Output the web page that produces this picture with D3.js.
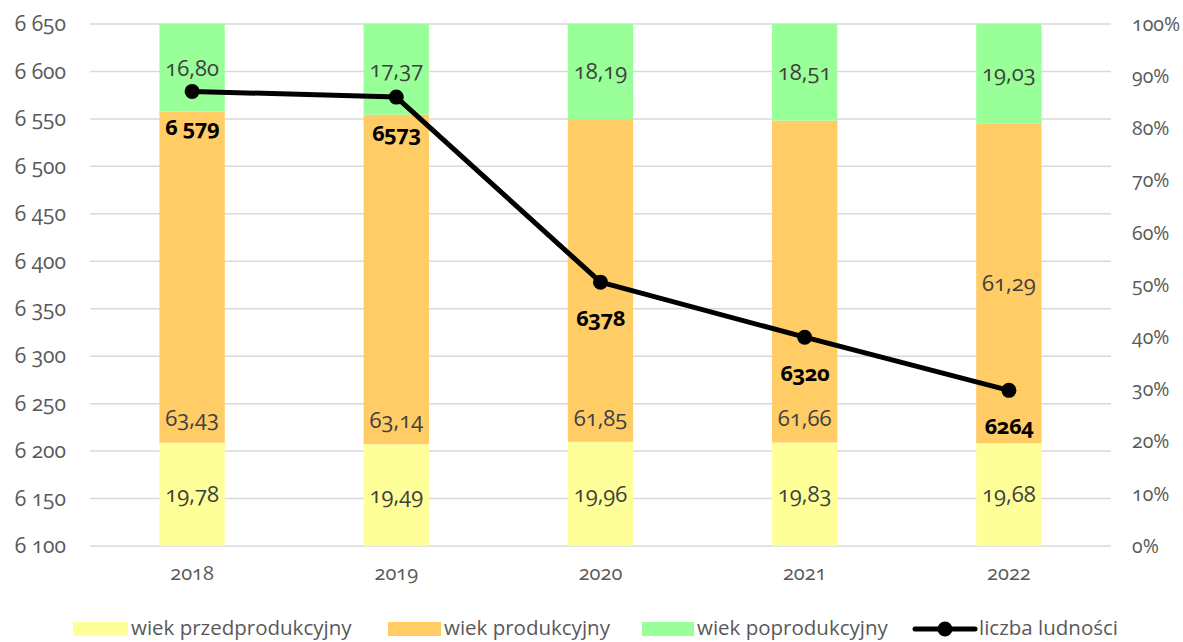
<!DOCTYPE html>
<html>
<head>
<meta charset="utf-8">
<script src="https://cdn.jsdelivr.net/npm/d3@7"></script>
<style>
  html, body { margin: 0; padding: 0; background: #fff; }
  svg { display: block; }
  svg text { font-family: "Open Sans", "Noto Sans", sans-serif; font-variant-numeric: oldstyle-nums; }
</style>
</head>
<body>
<svg id="chart" width="1183" height="642"></svg>
<script>
// Struktura ludności wg ekonomicznych grup wieku (%) i liczba ludności
const years = ["2018", "2019", "2020", "2021", "2022"];
const preWorking = [19.78, 19.49, 19.96, 19.83, 19.68];
const working = [63.43, 63.14, 61.85, 61.66, 61.29];
const postWorking = [16.80, 17.37, 18.19, 18.51, 19.03];
const population = [6579, 6573, 6378, 6320, 6264];
const populationLabels = ["6 579", "6573", "6378", "6320", "6264"];
const leftTicks = [6100, 6150, 6200, 6250, 6300, 6350, 6400, 6450, 6500, 6550, 6600, 6650];
const rightTicks = [0, 10, 20, 30, 40, 50, 60, 70, 80, 90, 100];
const seriesNames = ["wiek przedprodukcyjny", "wiek produkcyjny", "wiek poprodukcyjny", "liczba ludności"];
const seriesColors = ["#ffff99", "#ffcc66", "#99ff99"];

const svg = d3.select("#chart");
const plot = { left: 90, right: 1111, top: 24, bottom: 546 };

const x = d3.scaleBand().domain(years).range([plot.left, plot.right]).paddingInner(0.68).paddingOuter(0.34);
const yLeft = d3.scaleLinear().domain([6100, 6650]).range([plot.bottom, plot.top]);
const yRight = d3.scaleLinear().domain([0, 100]).range([plot.bottom, plot.top]);

const fmt = v => v.toFixed(2).replace(".", ",");
const fmtThousands = v => String(v).replace(/\B(?=(\d{3})+(?!\d))/g, " ");

// Linie siatki
svg.append("g")
  .selectAll("line")
  .data(leftTicks)
  .join("line")
  .attr("x1", plot.left).attr("x2", plot.right)
  .attr("y1", d => yLeft(d)).attr("y2", d => yLeft(d))
  .attr("stroke", "#d9d9d9").attr("stroke-width", 1.5);

function styleAxis(g, size) {
  g.attr("font-family", null).attr("font-size", size);
  g.select(".domain").remove();
  g.selectAll("text").attr("fill", "#595959");
}

// Oś lewa
svg.append("g")
  .attr("transform", `translate(${plot.left},0)`)
  .call(d3.axisLeft(yLeft).tickValues(leftTicks).tickSize(0).tickPadding(24).tickFormat(fmtThousands))
  .call(g => styleAxis(g, 21));

// Oś prawa
svg.append("g")
  .attr("transform", `translate(${plot.right},0)`)
  .call(d3.axisRight(yRight).tickValues(rightTicks).tickSize(0).tickPadding(21).tickFormat(d => d + "%"))
  .call(g => styleAxis(g, 19.5));

// Oś X
svg.append("g")
  .attr("transform", `translate(0,${plot.bottom})`)
  .call(d3.axisBottom(x).tickSize(0).tickPadding(20))
  .call(g => styleAxis(g, 20));

// Słupki skumulowane
const rows = years.map((y, i) => ({ year: y, pre: preWorking[i], work: working[i], post: postWorking[i] }));
const stack = d3.stack().keys(["pre", "work", "post"])(rows);

const layers = svg.append("g").selectAll("g")
  .data(stack)
  .join("g")
  .attr("fill", (d, i) => seriesColors[i]);

layers.selectAll("rect")
  .data(d => d)
  .join("rect")
  .attr("x", d => x(d.data.year))
  .attr("width", x.bandwidth())
  .attr("y", d => yRight(Math.min(d[1], 100)))
  .attr("height", d => yRight(d[0]) - yRight(Math.min(d[1], 100)));

// Etykiety wartości słupków
const baseLabelYears = new Set(["2018", "2019", "2020", "2021"]);
const segLabels = svg.append("g")
  .attr("fill", "#404040").attr("font-size", 22).attr("text-anchor", "middle");
stack.forEach((layer, li) => {
  layer.forEach(d => {
    const top = yRight(Math.min(d[1], 100));
    const bottom = yRight(d[0]);
    let cy = (top + bottom) / 2;
    if (li === 1 && baseLabelYears.has(d.data.year)) cy = bottom - 24;
    segLabels.append("text")
      .attr("x", x(d.data.year) + x.bandwidth() / 2)
      .attr("y", cy)
      .attr("dy", "0.35em")
      .text(fmt(d[1] - d[0]));
  });
});

// Linia liczby ludności
const cx = d => x(d) + x.bandwidth() / 2;
const pts = years.map((y, i) => ({ year: y, v: population[i], label: populationLabels[i] }));
svg.append("path")
  .datum(pts)
  .attr("fill", "none").attr("stroke", "#000").attr("stroke-width", 5)
  .attr("stroke-linejoin", "round")
  .attr("d", d3.line().x(d => cx(d.year)).y(d => yLeft(d.v)));

svg.append("g").selectAll("circle")
  .data(pts)
  .join("circle")
  .attr("cx", d => cx(d.year)).attr("cy", d => yLeft(d.v)).attr("r", 7.5)
  .attr("fill", "#000");

svg.append("g").selectAll("text")
  .data(pts)
  .join("text")
  .attr("x", d => cx(d.year)).attr("y", d => yLeft(d.v) + 36)
  .attr("dy", "0.35em")
  .attr("text-anchor", "middle")
  .attr("font-size", 22).attr("font-weight", 700).attr("fill", "#000")
  .attr("letter-spacing", "-0.5")
  .text(d => d.label);

// Legenda
const legend = svg.append("g").attr("font-size", 20.5).attr("fill", "#595959");
const legendY = 628;
const legendItems = [
  { x: 73, w: 55, color: seriesColors[0], name: seriesNames[0] },
  { x: 388, w: 53, color: seriesColors[1], name: seriesNames[1] },
  { x: 642, w: 52, color: seriesColors[2], name: seriesNames[2] }
];
legendItems.forEach(it => {
  legend.append("rect").attr("x", it.x).attr("y", legendY - 6).attr("width", it.w).attr("height", 14).attr("fill", it.color);
  legend.append("text").attr("x", it.x + it.w + 3).attr("y", legendY).attr("dy", "0.35em").text(it.name);
});
legend.append("line").attr("x1", 915).attr("x2", 975).attr("y1", legendY + 1).attr("y2", legendY + 1)
  .attr("stroke", "#000").attr("stroke-width", 5).attr("stroke-linecap", "round");
legend.append("circle").attr("cx", 945).attr("cy", legendY + 1).attr("r", 7.5).attr("fill", "#000");
legend.append("text").attr("x", 979).attr("y", legendY).attr("dy", "0.35em").text(seriesNames[3]);
</script>
</body>
</html>
